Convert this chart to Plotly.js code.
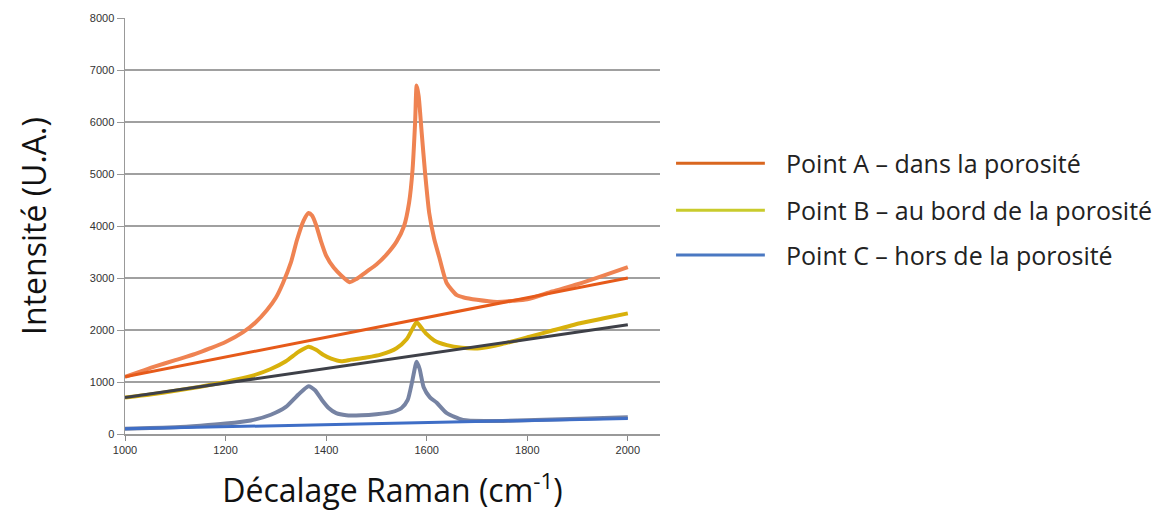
<!DOCTYPE html>
<html><head><meta charset="utf-8">
<script src="https://cdn.plot.ly/plotly-3.0.1.min.js"></script>
<style>html,body{margin:0;padding:0;background:#fff}#chart{width:1170px;height:515px}</style>
</head><body><div id="chart"></div>
<script>
// Raman shift (cm-1) and intensities (U.A.)
const xA = [1000,1030,1060,1100,1140,1170,1200,1235,1260,1282,1300,1314,1330,1342,1355,1365,1372,1380,1390,1400,1415,1430,1447,1460,1480,1500,1520,1540,1555,1565,1572,1577,1580,1584,1590,1597,1605,1615,1625,1640,1660,1672,1700,1740,1770,1800,1850,1900,1950,2000];
const yA = [1100,1200,1300,1420,1540,1650,1770,1960,2150,2380,2620,2900,3300,3730,4100,4250,4200,4020,3700,3430,3200,3050,2920,2980,3120,3260,3450,3700,4000,4450,5100,6000,6700,6500,5800,5000,4250,3750,3400,2900,2670,2630,2580,2540,2560,2590,2740,2880,3040,3210];
const xB = [1000,1050,1100,1150,1200,1250,1290,1320,1345,1365,1380,1395,1410,1430,1450,1480,1510,1540,1560,1572,1580,1588,1600,1615,1640,1670,1706,1750,1805,1850,1905,1950,2000];
const yB = [700,760,830,910,1000,1110,1250,1400,1580,1680,1620,1520,1450,1400,1430,1470,1530,1650,1820,2030,2150,2060,1920,1800,1710,1660,1650,1730,1870,1990,2130,2220,2320];
const xC = [1000,1050,1100,1150,1200,1250,1290,1320,1345,1365,1378,1392,1405,1420,1440,1470,1500,1530,1550,1562,1572,1580,1586,1594,1606,1620,1640,1672,1720,1780,1850,1920,2000];
const yC = [100,115,130,160,200,260,370,520,760,920,840,650,500,400,360,360,380,420,500,650,1050,1390,1250,900,710,600,400,270,250,260,280,300,320];
const lineX = [1000,2000];
const lineA = [1100,3000];
const lineB = [700,2100];
const lineC = [100,300];
const xTicks = [1000,1200,1400,1600,1800,2000];
const legendNames = ['Point A – dans la porosité','Point B – au bord de la porosité','Point C – hors de la porosité'];
const legendColors = ['#D9661F','#C9CB2C','#4A78C2'];

const traces = [
  {x:xA,y:yA,mode:'lines',line:{color:'#EF8352',width:4,shape:'spline',smoothing:0.6}},
  {x:xB,y:yB,mode:'lines',line:{color:'#D8B10C',width:4,shape:'spline',smoothing:0.6}},
  {x:xC,y:yC,mode:'lines',line:{color:'#7683A3',width:4,shape:'spline',smoothing:0.6}},
  {x:lineX,y:lineA,mode:'lines',line:{color:'#E65A1A',width:3}},
  {x:lineX,y:lineB,mode:'lines',line:{color:'#3E4048',width:3}},
  {x:lineX,y:lineC,mode:'lines',line:{color:'#3F6EC6',width:3}}
];

const legY = [0.651,0.538,0.430];
const shapes = [], annotations = [];
legendNames.forEach((n,i)=>{
  shapes.push({type:'line',xref:'paper',yref:'paper',x0:1.03,x1:1.196,y0:legY[i],y1:legY[i],line:{color:legendColors[i],width:3}});
  annotations.push({xref:'paper',yref:'paper',x:1.232,y:legY[i],xanchor:'left',yanchor:'middle',showarrow:false,text:n,font:{family:'Open Sans',size:25,color:'#222'}});
});

const layout = {
  width:1170,height:515,
  margin:{l:125,r:510,t:18,b:81},
  paper_bgcolor:'#fff',plot_bgcolor:'#fff',
  showlegend:false,
  font:{family:'Liberation Sans',color:'#444'},
  xaxis:{range:[1000,2064],tickvals:xTicks,ticks:'outside',ticklen:5,tickcolor:'#888',
    showgrid:false,zeroline:false,showline:true,linecolor:'#999',linewidth:1.5,
    tickfont:{size:11,color:'#333'},
    title:{text:'Décalage Raman (cm<sup>-1</sup>)',font:{family:'Open Sans',size:32,color:'#111'},standoff:25}},
  yaxis:{range:[0,8000],dtick:1000,ticks:'outside',ticklen:7,tickcolor:'#999',
    showgrid:true,gridcolor:'#A0A0A0',gridwidth:1.5,zeroline:false,showline:true,linecolor:'#999',linewidth:1.5,
    tickfont:{size:11,color:'#333'},
    title:{text:'Intensité (U.A.)',font:{family:'Open Sans',size:32,color:'#111'},standoff:33}},
  shapes:shapes,annotations:annotations
};
Plotly.newPlot('chart',traces,layout,{displayModeBar:false,staticPlot:true});
</script></body></html>
